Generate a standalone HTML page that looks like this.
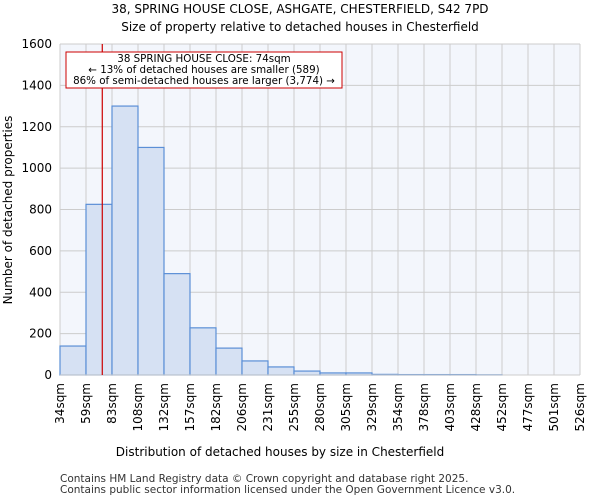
<!DOCTYPE html>
<html><head><meta charset="utf-8"><style>
body{margin:0;background:#fff;font-family:"DejaVu Sans","Liberation Sans",sans-serif;}
</style></head><body>
<svg width="600" height="500" xmlns="http://www.w3.org/2000/svg" font-family="DejaVu Sans, Liberation Sans, sans-serif">
<text x="300" y="13" text-anchor="middle" font-size="12">38, SPRING HOUSE CLOSE, ASHGATE, CHESTERFIELD, S42 7PD</text>
<text x="300" y="31" text-anchor="middle" font-size="12">Size of property relative to detached houses in Chesterfield</text>
<rect x="60" y="44" width="520" height="331" fill="#f3f6fc"/>
<g id="grid"></g>
<g id="bars"></g>
<g id="axes"></g>
<text x="280" y="456" text-anchor="middle" font-size="12">Distribution of detached houses by size in Chesterfield</text>
<text transform="translate(12,210) rotate(-90)" text-anchor="middle" font-size="12">Number of detached properties</text>
<line id="marker" y1="44" y2="375" stroke="#cc0000" stroke-width="1.2"/>
<g>
<rect x="66" y="52" width="276" height="36" fill="#fff" stroke="#cc0000" stroke-width="1"/>
<text x="204" y="62" text-anchor="middle" font-size="10.3">38 SPRING HOUSE CLOSE: 74sqm</text>
<text x="204" y="73" text-anchor="middle" font-size="10.3">← 13% of detached houses are smaller (589)</text>
<text x="204" y="84" text-anchor="middle" font-size="10.3">86% of semi-detached houses are larger (3,774) →</text>
</g>
<text x="60" y="482" font-size="10.5" fill="#333">Contains HM Land Registry data © Crown copyright and database right 2025.</text>
<text x="60" y="493" font-size="10.5" fill="#333">Contains public sector information licensed under the Open Government Licence v3.0.</text>
</svg>
<script>
const categories=["34sqm","59sqm","83sqm","108sqm","132sqm","157sqm","182sqm","206sqm","231sqm","255sqm","280sqm","305sqm","329sqm","354sqm","378sqm","403sqm","428sqm","452sqm","477sqm","501sqm","526sqm"];
const counts=[140,825,1300,1100,490,228,130,68,39,19,10,10,3,2,2,2,1,0,0,0];
const yTicks=[0,200,400,600,800,1000,1200,1400,1600];
const markerValue=74;
const binStart=34, binWidth=24.6;
const NS="http://www.w3.org/2000/svg";
const X0=60,X1=580,Y0=375,Y1=44;
const bw=(X1-X0)/counts.length;
const xs=i=>X0+i*bw;
const ys=v=>Y0-(v/1600)*(Y0-Y1);
const grid=document.getElementById('grid'),bars=document.getElementById('bars'),axes=document.getElementById('axes');
function mk(tag,attrs,parent){const e=document.createElementNS(NS,tag);for(const k in attrs)e.setAttribute(k,attrs[k]);parent.appendChild(e);return e;}
yTicks.forEach(t=>{
  const g=mk('line',{x1:X0,x2:X1,y1:ys(t),y2:ys(t),stroke:'#cccccc'},grid);
  
  
  const l=mk('text',{x:X0-8,y:ys(t)+4,'text-anchor':'end','font-size':'12'},axes);
  l.textContent=t;
  
  
});
categories.forEach((c,i)=>{
  const g=mk('line',{x1:xs(i),x2:xs(i),y1:Y1,y2:Y0,stroke:'#cccccc'},grid);
  
  
  const l=mk('text',{transform:`translate(${xs(i)+4},${Y0+8}) rotate(-90)`,'text-anchor':'end','font-size':'12'},axes);
  l.textContent=c;
  
  
});
counts.forEach((v,i)=>{
  if(v<=0)return;
  const r=mk('rect',{x:xs(i),y:ys(v),width:bw,height:Y0-ys(v),fill:'#d6e1f3',stroke:'#5b8fd6','stroke-width':1.2},bars);
  
  
});
const ax=mk('line',{x1:X0,x2:X1,y1:Y0,y2:Y0,stroke:'#ccc'},axes);


const mx=X0+(markerValue-binStart)/binWidth*bw;
const m=document.getElementById('marker');m.setAttribute('x1',mx);m.setAttribute('x2',mx);
</script>
</body></html>
